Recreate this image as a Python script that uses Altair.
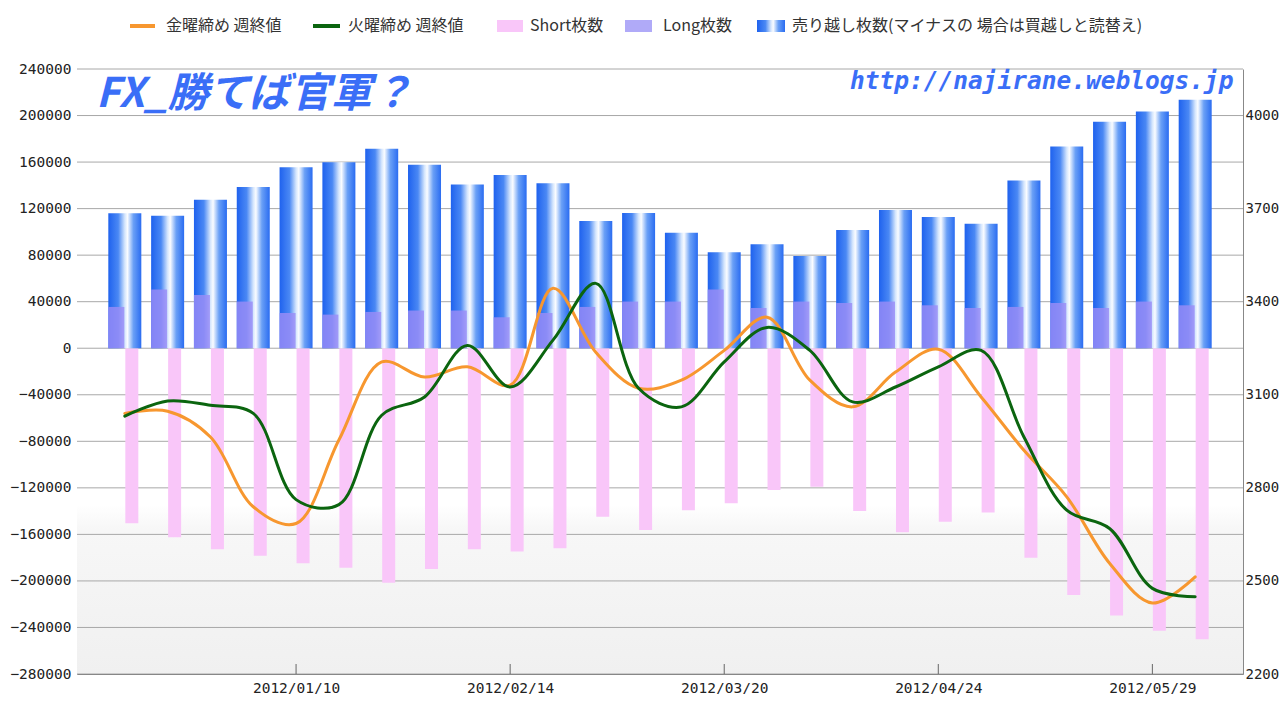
import altair as alt
import pandas as pd

# ---------------- data ----------------
dates = ["2011-12-13", "2011-12-20", "2011-12-27", "2012-01-03", "2012-01-10", "2012-01-17",
         "2012-01-24", "2012-01-31", "2012-02-07", "2012-02-14", "2012-02-21", "2012-02-28",
         "2012-03-06", "2012-03-13", "2012-03-20", "2012-03-27", "2012-04-03", "2012-04-10",
         "2012-04-17", "2012-04-24", "2012-05-01", "2012-05-08", "2012-05-15", "2012-05-22",
         "2012-05-29", "2012-06-05"]
net_short = [116100, 113900, 127700, 138500, 155600, 159900, 171400, 157700, 140800, 148800,
             141900, 109300, 116200, 99300, 82400, 89300, 79300, 101600, 118800, 112800,
             107000, 144200, 173400, 194600, 203400, 213500]
long_pos = [35500, 50400, 45800, 40100, 30300, 28900, 31200, 32400, 32400, 26600,
            30300, 35500, 40100, 40100, 50400, 34600, 40100, 38900, 40100, 36900,
            34600, 35500, 38900, 34600, 40100, 36900]
short_pos = [-150500, -162500, -172800, -178300, -184800, -188600, -201500, -189700, -172800, -174800,
             -171900, -144800, -156200, -139300, -133300, -121900, -119000, -139900, -158200, -149100,
             -141100, -180000, -212000, -229800, -242900, -250100]
fri_close = [3040, 3047, 2964, 2739, 2685, 2954, 3206, 3157, 3190, 3131,
             3443, 3237, 3121, 3147, 3243, 3350, 3147, 3061, 3173, 3247,
             3093, 2921, 2771, 2557, 2429, 2513]
tue_close = [3031, 3080, 3066, 3040, 2762, 2746, 3034, 3093, 3259, 3125,
             3276, 3459, 3121, 3061, 3206, 3317, 3243, 3077, 3125, 3190,
             3243, 2964, 2728, 2669, 2476, 2449]

left_ticks = [-280000, -240000, -200000, -160000, -120000, -80000, -40000, 0,
              40000, 80000, 120000, 160000, 200000, 240000]
right_ticks = [2200, 2500, 2800, 3100, 3400, 3700, 4000]
x_tick_dates = ["2012-01-10", "2012-02-14", "2012-03-20", "2012-04-24", "2012-05-29"]

legend_labels = ["金曜締め 週終値", "火曜締め 週終値", "Short枚数", "Long枚数",
                 "売り越し枚数(マイナスの 場合は買越しと読替え)"]
title_text = "FX_勝てば官軍？"
url_text = "http://najirane.weblogs.jp"

# ---------------- styling ----------------
W, H = 1166, 605
ORANGE = "#f7972f"
GREEN = "#0b650f"
PINK = "#f9c6f9"
PURPLE = "#9a8cf6"
BLUE_TXT = "#3a6ef7"
AX_FONT = "DejaVu Sans Mono"
JP_FONT = "Noto Sans CJK JP"

blue_grad = {
    "gradient": "linear", "x1": 0, "y1": 0, "x2": 1, "y2": 0,
    "stops": [
        {"offset": 0.0, "color": "#1f62ee"},
        {"offset": 0.3, "color": "#4a88f4"},
        {"offset": 0.5, "color": "#d5e6fd"},
        {"offset": 0.58, "color": "#fafcff"},
        {"offset": 0.76, "color": "#6aa0f6"},
        {"offset": 1.0, "color": "#2a6cf1"},
    ],
}
bg_grad = {
    "gradient": "linear", "x1": 0, "y1": 0, "x2": 0, "y2": 1,
    "stops": [
        {"offset": 0.0, "color": "#ffffff"},
        {"offset": 0.72, "color": "#ffffff"},
        {"offset": 0.76, "color": "#f7f7f7"},
        {"offset": 1.0, "color": "#f0f0f0"},
    ],
}


def dt(s):
    y, m, d = (int(p) for p in s.split("-"))
    return alt.DateTime(year=y, month=m, date=d, utc=True)


df = pd.DataFrame({"date": dates, "net": net_short, "long": long_pos, "short": short_pos,
                   "fri": fri_close, "tue": tue_close})

x_scale = alt.Scale(type="utc", domain=[alt.DateTime(year=2011, month=12, date=6, utc=True),
                                        alt.DateTime(year=2012, month=6, date=12, utc=True)])
x_axis = alt.Axis(values=[dt(s) for s in x_tick_dates],
                  labelExpr="utcFormat(datum.value, '%Y/%m/%d')",
                  ticks=False, grid=False, labelPadding=7, domainColor="#666666",
                  labelFont=AX_FONT, labelFontSize=14.5, labelColor="#222222", title=None)


def X(field):
    return alt.X(field, type="temporal", scale=x_scale, axis=x_axis, title=None)


left_scale = alt.Scale(domain=[-280000, 240000], nice=False, zero=False)
left_axis = alt.Axis(values=left_ticks, format="d", grid=False, ticks=False, labelPadding=6,
                     domainColor="#888888", labelFont=AX_FONT, labelFontSize=14.5,
                     labelColor="#222222", title=None)


def YL(field):
    return alt.Y(field, type="quantitative", scale=left_scale, axis=left_axis, title=None)


right_scale = alt.Scale(domain=[2200, 4150], nice=False, zero=False)
right_axis = alt.Axis(orient="right", values=right_ticks, format="d", grid=False, ticks=False,
                      labelPadding=2, domainColor="#888888", labelFont=AX_FONT,
                      labelFontSize=14, labelColor="#222222", title=None)


def YR(field):
    return alt.Y(field, type="quantitative", scale=right_scale, axis=right_axis, title=None)


one = alt.Data(values=[{"k": 1}])

# ---------------- bar group (left axis) ----------------
bg = alt.Chart(one).mark_rect(color=bg_grad).encode(
    x=alt.value(0), x2=alt.value(W), y=alt.value(0), y2=alt.value(H))

grid = alt.Chart(pd.DataFrame({"v": left_ticks})).mark_rule(
    color="#a8a8a8", strokeWidth=1).encode(y=YL("v"))

xticks = alt.Chart(pd.DataFrame({"d": x_tick_dates})).mark_rule(
    color="#666666", strokeWidth=1).encode(x=X("d"), y=alt.value(H - 10), y2=alt.value(H))

short_bars = alt.Chart(df).mark_bar(color=PINK, size=13, xOffset=7).encode(
    x=X("date"), y=YL("short"), y2=alt.datum(0))

net_bars = alt.Chart(df).mark_bar(color=blue_grad, size=33).encode(
    x=X("date"), y=YL("net"), y2=alt.datum(0))

long_bars = alt.Chart(df).mark_bar(color=PURPLE, opacity=0.82, size=16, xOffset=-8.5).encode(
    x=X("date"), y=YL("long"), y2=alt.datum(0))

bars_group = alt.layer(bg, grid, xticks, short_bars, net_bars, long_bars)

# ---------------- line group (right axis) ----------------
fri_line = alt.Chart(df).mark_line(color=ORANGE, strokeWidth=3, interpolate="catmull-rom",
                                   strokeCap="round").encode(x=X("date"), y=YR("fri"))
tue_line = alt.Chart(df).mark_line(color=GREEN, strokeWidth=3, interpolate="catmull-rom",
                                   strokeCap="round").encode(x=X("date"), y=YR("tue"))
lines_group = alt.layer(fri_line, tue_line)

# ---------------- decorations: title texts & legend ----------------
title_mark = alt.Chart(one).mark_text(
    text=title_text, font=JP_FONT, fontSize=41, fontWeight="bold", fontStyle="italic",
    color=BLUE_TXT, align="left", baseline="middle").encode(x=alt.value(19), y=alt.value(26))
url_mark = alt.Chart(one).mark_text(
    text=url_text, font=AX_FONT, fontSize=24.5, fontWeight="bold", fontStyle="italic",
    color=BLUE_TXT, align="left", baseline="alphabetic").encode(x=alt.value(773), y=alt.value(20))

LY = -43
leg = []
leg.append(alt.Chart(one).mark_rule(color=ORANGE, strokeWidth=4).encode(
    x=alt.value(53), x2=alt.value(78), y=alt.value(LY)))
leg.append(alt.Chart(one).mark_rule(color=GREEN, strokeWidth=4).encode(
    x=alt.value(236), x2=alt.value(263), y=alt.value(LY)))
leg.append(alt.Chart(one).mark_rect(color=PINK).encode(
    x=alt.value(420), x2=alt.value(446), y=alt.value(LY - 6), y2=alt.value(LY + 6)))
leg.append(alt.Chart(one).mark_rect(color="#b0aaf8").encode(
    x=alt.value(548), x2=alt.value(575), y=alt.value(LY - 6), y2=alt.value(LY + 6)))
leg.append(alt.Chart(one).mark_rect(color=blue_grad).encode(
    x=alt.value(680), x2=alt.value(708), y=alt.value(LY - 6), y2=alt.value(LY + 6)))
for lab, lx in zip(legend_labels, [89, 271, 453, 586, 715]):
    leg.append(alt.Chart(one).mark_text(
        text=lab, font=JP_FONT, fontSize=16, color="#333333", align="left",
        baseline="middle").encode(x=alt.value(lx), y=alt.value(LY)))

deco_group = alt.layer(title_mark, url_mark, *leg)

chart = alt.layer(bars_group, lines_group, deco_group).resolve_scale(y="independent").properties(
    width=W, height=H,
    autosize=alt.AutoSizeParams(type="none"),
    padding={"left": 69, "top": 61, "right": 37, "bottom": 20},
    background="#ffffff",
).configure_view(stroke=None)

chart.save("out.html", embed_options={"renderer": "svg", "actions": False})
